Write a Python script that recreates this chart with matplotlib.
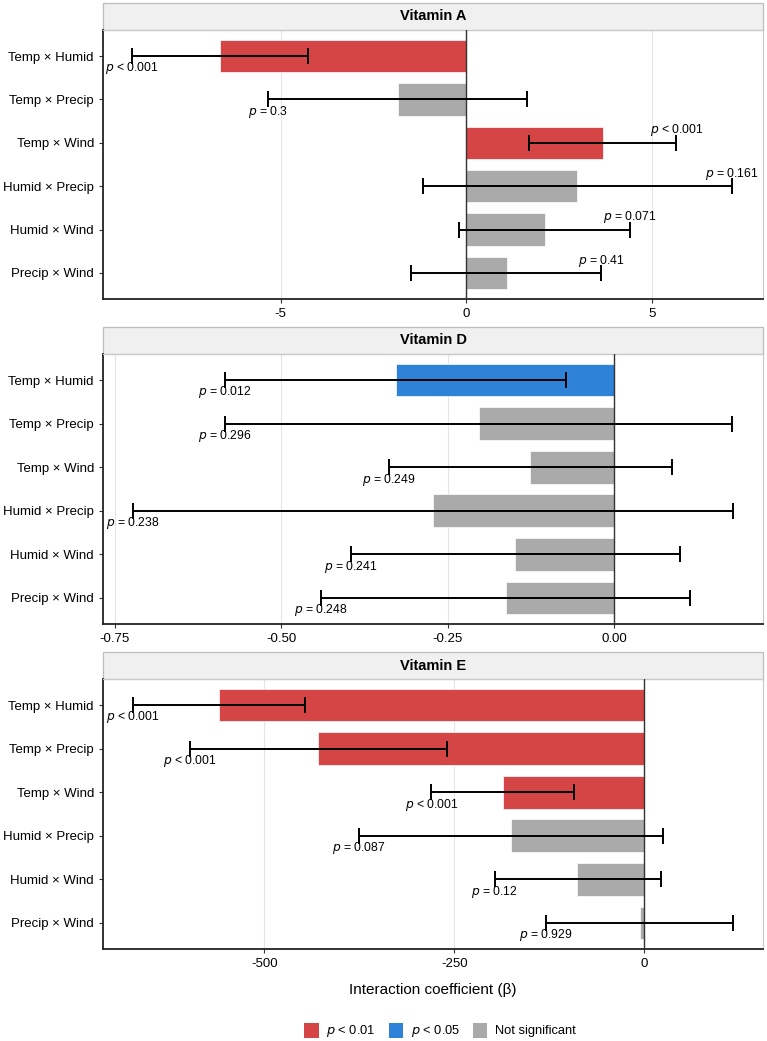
import matplotlib.pyplot as plt
from matplotlib.patches import Rectangle, Patch

plt.rcParams['font.family'] = ['Liberation Sans', 'DejaVu Sans']

terms = ["Temp × Humid", "Temp × Precip", "Temp × Wind",
         "Humid × Precip", "Humid × Wind", "Precip × Wind"]

vit_a_beta = [-6.64, -1.85, 3.67, 2.98, 2.11, 1.08]
vit_a_lo = [-9.0, -5.35, 1.69, -1.18, -0.19, -1.48]
vit_a_hi = [-4.27, 1.64, 5.65, 7.15, 4.41, 3.63]
vit_a_p = ["p < 0.001", "p = 0.3", "p < 0.001", "p = 0.161", "p = 0.071", "p = 0.41"]
vit_a_sig = ["p < 0.01", "Not significant", "p < 0.01", "Not significant", "Not significant", "Not significant"]

vit_d_beta = [-0.328, -0.203, -0.126, -0.272, -0.149, -0.163]
vit_d_lo = [-0.585, -0.584, -0.338, -0.723, -0.396, -0.440]
vit_d_hi = [-0.072, 0.177, 0.087, 0.179, 0.099, 0.114]
vit_d_p = ["p = 0.012", "p = 0.296", "p = 0.249", "p = 0.238", "p = 0.241", "p = 0.248"]
vit_d_sig = ["p < 0.05", "Not significant", "Not significant", "Not significant", "Not significant", "Not significant"]

vit_e_beta = [-559, -429, -186, -175, -88, -6]
vit_e_lo = [-673, -598, -280, -375, -197, -129]
vit_e_hi = [-446, -260, -92, 24, 22, 116]
vit_e_p = ["p < 0.001", "p < 0.001", "p < 0.001", "p = 0.087", "p = 0.12", "p = 0.929"]
vit_e_sig = ["p < 0.01", "p < 0.01", "p < 0.01", "Not significant", "Not significant", "Not significant"]

colors = {"p < 0.01": "#D64545", "p < 0.05": "#2E82D8", "Not significant": "#AAAAAA"}

panels = [
    ("Vitamin A", vit_a_beta, vit_a_lo, vit_a_hi, vit_a_p, vit_a_sig, (-9.78, 7.98), [-5, 0, 5], ["-5", "0", "5"]),
    ("Vitamin D", vit_d_beta, vit_d_lo, vit_d_hi, vit_d_p, vit_d_sig, (-0.768, 0.224),
     [-0.75, -0.5, -0.25, 0], ["-0.75", "-0.50", "-0.25", "0.00"]),
    ("Vitamin E", vit_e_beta, vit_e_lo, vit_e_hi, vit_e_p, vit_e_sig, (-712, 156),
     [-500, -250, 0], ["-500", "-250", "0"]),
]

W, H = 767, 1041
fig = plt.figure(figsize=(W / 100, H / 100), dpi=100)

# axes boxes in pixels: (top, bottom)
boxes = [(30, 299), (354, 624), (679, 949)]
left_px, right_px = 103, 763
strip_h = 27

for (title, beta, lo, hi, plab, sig, xlim, ticks, ticklabels), (top, bot) in zip(panels, boxes):
    ax = fig.add_axes([left_px / W, 1 - bot / H, (right_px - left_px) / W, (bot - top) / H])
    n = len(terms)
    ypos = list(range(n))
    ax.barh(ypos, beta, height=0.75, color=[colors[s] for s in sig],
            edgecolor="white", linewidth=0.5, zorder=2)
    ax.axvline(0, color="#333333", linewidth=1.0, zorder=3)
    for i in range(n):
        ax.errorbar(beta[i], i, xerr=[[beta[i] - lo[i]], [hi[i] - beta[i]]],
                    fmt="none", ecolor="black", elinewidth=1.4, capsize=6, capthick=1.4, zorder=4)
        label = "$p$" + plab[i][1:]
        if beta[i] < 0:
            ax.text(lo[i], i + 0.1, label, ha="center", va="top", fontsize=8.8, zorder=5)
        else:
            ax.text(hi[i], i - 0.1, label, ha="center", va="bottom", fontsize=8.8, zorder=5)
    ax.set_ylim(n - 1 + 0.6, -0.6)
    ax.set_xlim(*xlim)
    ax.set_yticks(ypos)
    ax.set_yticklabels(terms)
    ax.set_xticks(ticks)
    ax.set_xticklabels(ticklabels)
    ax.tick_params(axis="both", labelsize=9.5, colors="#333333", labelcolor="black", length=3, width=0.8)
    ax.grid(axis="x", color="#E5E5E5", linewidth=0.8, zorder=0)
    ax.set_axisbelow(True)
    for side in ["top", "right"]:
        ax.spines[side].set_color("#C8C8C8")
        ax.spines[side].set_linewidth(0.8)
    for side in ["left", "bottom"]:
        ax.spines[side].set_color("#222222")
        ax.spines[side].set_linewidth(1.3)
    sh = strip_h / (bot - top)
    ax.add_patch(Rectangle((0, 1), 1, sh, transform=ax.transAxes, clip_on=False,
                           facecolor="#F0F0F0", edgecolor="#BDBDBD", linewidth=0.9))
    ax.text(0.5, 1 + sh / 2, title, transform=ax.transAxes, ha="center", va="center",
            fontsize=10.5, fontweight="bold")
    last_ax = ax

last_ax.set_xlabel("Interaction coefficient (β)", fontsize=11, labelpad=9)

handles = [Patch(facecolor=colors[k], edgecolor="none", label=("$p$" + k[1:]) if k.startswith("p") else k)
           for k in ["p < 0.01", "p < 0.05", "Not significant"]]
fig.legend(handles=handles, loc="center", bbox_to_anchor=(440 / W, 1 - 1031 / H), ncol=3,
           frameon=False, fontsize=9.3, handlelength=1.1, handleheight=1.4, columnspacing=1.0,
           handletextpad=0.6)

fig.savefig("out.png", dpi=100)
